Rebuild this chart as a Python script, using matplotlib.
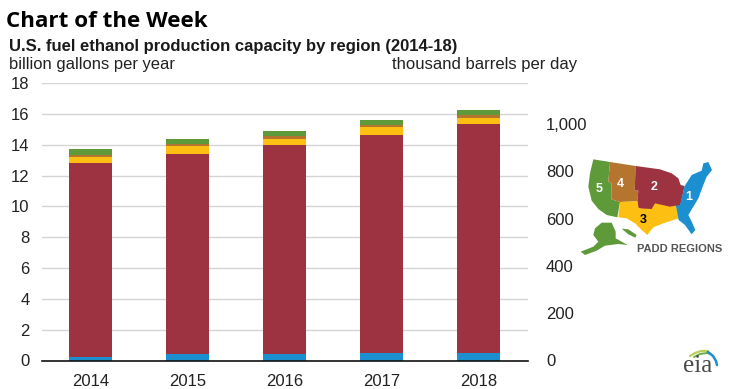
import matplotlib
matplotlib.use('Agg')
import matplotlib.pyplot as plt
from matplotlib.patches import Polygon

plt.rcParams['font.family'] = ['Liberation Sans', 'DejaVu Sans']

years = ['2014', '2015', '2016', '2017', '2018']
padd1 = [0.25, 0.4, 0.4, 0.5, 0.5]
padd2 = [12.55, 13.0, 13.6, 14.15, 14.85]
padd3 = [0.4, 0.5, 0.4, 0.5, 0.4]
padd4 = [0.12, 0.15, 0.15, 0.15, 0.15]
padd5 = [0.38, 0.35, 0.35, 0.3, 0.35]
left_ticks = [0, 2, 4, 6, 8, 10, 12, 14, 16, 18]
right_ticks = [0, 200, 400, 600, 800, 1000]
right_labels = ['0', '200', '400', '600', '800', '1,000']

colors = ['#1b8fd0', '#9d3241', '#fdbf11', '#b5752e', '#5f9a3a']
series = [padd1, padd2, padd3, padd4, padd5]

W, H = 730, 389
fig = plt.figure(figsize=(W / 100, H / 100), dpi=100)
ax = fig.add_axes([42 / W, 1 - 360.5 / H, 486 / W, 277.5 / H])

bottom = [0] * 5
for vals, c in zip(series, colors):
    ax.bar(range(5), vals, bottom=bottom, width=0.443, color=c, zorder=3)
    bottom = [b + v for b, v in zip(bottom, vals)]

ax.set_xlim(-0.5, 4.51)
ax.set_ylim(0, 18)
ax.set_yticks(left_ticks)
ax.set_xticks(range(5))
ax.set_xticklabels(years)
ax.tick_params(axis='both', length=0, labelsize=12, labelcolor='#222222')
ax.tick_params(axis='x', pad=10)
ax.tick_params(axis='y', pad=9)
ax.grid(axis='y', color='#d4d4d4', lw=1, zorder=0)
ax.set_axisbelow(True)
for s in ['top', 'left', 'right']:
    ax.spines[s].set_visible(False)
ax.spines['bottom'].set_color('#111111')
ax.spines['bottom'].set_linewidth(1.2)
ax.spines['bottom'].set_zorder(5)

# second axis, 1,000 thousand b/d = 15.33 billion gal/yr
ax2 = ax.twinx()
ax2.set_ylim(0, 18 / 15.33 * 1000)
ax2.set_yticks(right_ticks)
ax2.set_yticklabels(right_labels)
ax2.tick_params(axis='y', length=0, labelsize=12, labelcolor='#222222', pad=13)
for s in ax2.spines.values():
    s.set_visible(False)

fig.text(6 / W, 1 - 27 / H, 'Chart of the Week', fontsize=16.1, fontweight='bold',
         family=['Open Sans', 'DejaVu Sans'], color='black')
fig.text(9 / W, 1 - 51 / H, 'U.S. fuel ethanol production capacity by region (2014-18)',
         fontsize=12, fontweight='bold', color='#1a1a1a')
fig.text(9 / W, 1 - 69 / H, 'billion gallons per year', fontsize=11.9, color='#222222')
fig.text(392 / W, 1 - 69 / H, 'thousand barrels per day', fontsize=12, color='#222222')

m = fig.add_axes([0, 0, 1, 1])
m.set_xlim(0, W)
m.set_ylim(H, 0)
m.axis('off')
m.patch.set_alpha(0)

regions = [
    ('#5f9a3a', [(100, 58), (150, 66), (145, 125), (155, 130), (155, 178), (180, 186), (172, 232), (140, 225),
                 (115, 207), (95, 182), (85, 140), (90, 100)]),
    ('#b5752e', [(150, 66), (227, 78), (224, 150), (235, 152), (232, 184), (180, 186), (155, 178), (155, 130),
                 (145, 125)]),
    ('#9d3241', [(227, 78), (300, 88), (335, 100), (355, 115), (362, 135), (374, 138), (360, 200), (280, 212),
                 (235, 205), (232, 184), (235, 152), (224, 150)]),
    ('#fdbf11', [(180, 186), (232, 184), (236, 205), (275, 207), (285, 190), (330, 200), (348, 197), (358, 235),
                 (340, 240), (310, 250), (280, 262), (262, 285), (245, 270), (225, 250), (200, 235), (175, 232)]),
    ('#1b8fd0', [(374, 138), (395, 105), (425, 92), (430, 70), (445, 66), (456, 90), (440, 110), (430, 135),
                 (415, 175), (397, 205), (385, 225), (395, 245), (406, 270), (395, 283), (375, 255), (356, 240),
                 (348, 197), (360, 195)]),
    ('#5f9a3a', [(105, 265), (125, 248), (155, 248), (167, 275), (167, 295), (203, 315), (175, 312), (135, 317),
                 (110, 332), (75, 345), (62, 335), (100, 320), (115, 305), (100, 285)]),
    ('#5f9a3a', [(185, 266), (205, 268), (230, 285), (226, 293), (205, 283)]),
]
for col, pts in regions:
    pts = [(560 + x / 3, 140 + y / 3) for x, y in pts]
    m.add_patch(Polygon(pts, closed=True, facecolor=col, edgecolor='none'))

for x, y, s, c in [(599, 189, '5', 'white'), (620, 184, '4', 'white'), (654, 187, '2', 'white'),
                   (689, 197, '1', 'white'), (643.5, 219.5, '3', 'black')]:
    m.text(x, y, s, fontsize=9, fontweight='bold', color=c, ha='center', va='center')
m.text(637, 248.5, 'PADD REGIONS', fontsize=8.05, fontweight='bold', color='#555555', va='center')

# eia logo
m.text(698, 372, 'eia', fontsize=18, family=['Liberation Serif', 'DejaVu Serif'], color='#4a4a4a',
       ha='center', va='baseline')
m.plot([690, 695, 701, 708], [356, 353, 351, 351], color='#b9cf5a', lw=1.6, solid_capstyle='round')
m.plot([694, 700, 707, 711], [357, 354, 353, 354], color='#6fae4a', lw=1.4, solid_capstyle='round')
m.plot([708, 713, 716, 717], [352, 356, 361, 365], color='#1b8fd0', lw=1.8, solid_capstyle='round')
m.set_xlim(0, W)
m.set_ylim(H, 0)

fig.savefig('out.png', dpi=100)
